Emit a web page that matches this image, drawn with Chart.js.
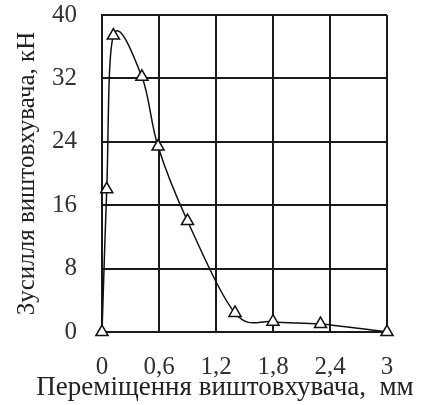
<!DOCTYPE html>
<html>
<head>
<meta charset="utf-8">
<script src="https://cdn.jsdelivr.net/npm/chart.js@4/dist/chart.umd.min.js"></script>
<style>
  html, body { margin: 0; padding: 0; background: #fff; }
  #wrap { width: 427px; height: 405px; }
</style>
</head>
<body>
<div id="wrap"><canvas id="forceChart" width="427" height="405"></canvas></div>
<script>
// displacement of the ejector, mm
const displacement = [0, 0.05, 0.12, 0.42, 0.59, 0.9, 1.4, 1.8, 2.3, 3];
// ejector force, kN
const force = [0, 18, 37.4, 32.2, 23.4, 14, 2.4, 1.3, 1.0, 0];

const xTitle = 'Переміщення виштовхувача,  мм';
const yTitle = 'Зусилля виштовхувача, кН';

const serif = 'Liberation Serif';

// x title sits a bit left of the plot centre in the original, so draw it by hand
const xTitlePlugin = {
  id: 'xTitle',
  afterDraw(chart) {
    const ctx = chart.ctx;
    ctx.save();
    ctx.font = '27px "' + serif + '"';
    ctx.fillStyle = '#222';
    ctx.textAlign = 'center';
    ctx.textBaseline = 'middle';
    ctx.fillText(xTitle, 225, 388);
    ctx.restore();
  }
};

// spreadsheet-style smoothing: control points at 1/6 of the chord between neighbours
const smoothPlugin = {
  id: 'smooth',
  beforeDatasetDraw(chart, args) {
    const line = args.meta.dataset;
    const pts = args.meta.data;
    line.updateControlPoints(chart.chartArea, 'x');
    pts.forEach((p, i) => {
      const prev = pts[i - 1] || p;
      const next = pts[i + 1] || p;
      const dx = (next.x - prev.x) / 6;
      const dy = (next.y - prev.y) / 6;
      p.cp1x = p.x - dx; p.cp1y = p.y - dy;
      p.cp2x = p.x + dx; p.cp2y = p.y + dy;
    });
  }
};

new Chart(document.getElementById('forceChart'), {
  type: 'line',
  data: {
    datasets: [{
      data: displacement.map((x, i) => ({ x, y: force[i] })),
      borderColor: '#111',
      borderWidth: 1.5,
      tension: 0.3,
      pointStyle: 'triangle',
      pointRadius: 7,
      pointBorderWidth: 1.5,
      pointBorderColor: '#111',
      pointBackgroundColor: '#fff',
      clip: false
    }]
  },
  plugins: [smoothPlugin, xTitlePlugin],
  options: {
    responsive: false,
    animation: false,
    layout: { padding: { top: 15, right: 40, bottom: 0, left: 0 } },
    plugins: { legend: { display: false }, tooltip: { enabled: false } },
    scales: {
      x: {
        type: 'linear',
        min: 0, max: 3,
        afterFit(scale) { scale.height = 73; scale.paddingTop = 0; },
        border: { display: true, color: '#1a1a1a', width: 2 },
        grid: { color: '#1a1a1a', lineWidth: 2, drawTicks: false },
        ticks: {
          stepSize: 0.6,
          padding: 20,
          color: '#333',
          font: { family: serif, size: 25 },
          callback: v => Number(v.toFixed(1)).toString().replace('.', ',')
        }
      },
      y: {
        min: 0, max: 40,
        afterFit(scale) { scale.width = 102; scale.paddingTop = 0; },
        border: { display: true, color: '#1a1a1a', width: 2 },
        grid: { color: '#1a1a1a', lineWidth: 2, drawTicks: false },
        ticks: {
          stepSize: 8,
          padding: 25,
          color: '#333',
          font: { family: serif, size: 25 }
        },
        title: {
          display: true,
          text: yTitle,
          color: '#222',
          font: { family: serif, size: 25 },
          padding: { top: 12, bottom: 0 }
        }
      }
    }
  }
});
</script>
</body>
</html>
